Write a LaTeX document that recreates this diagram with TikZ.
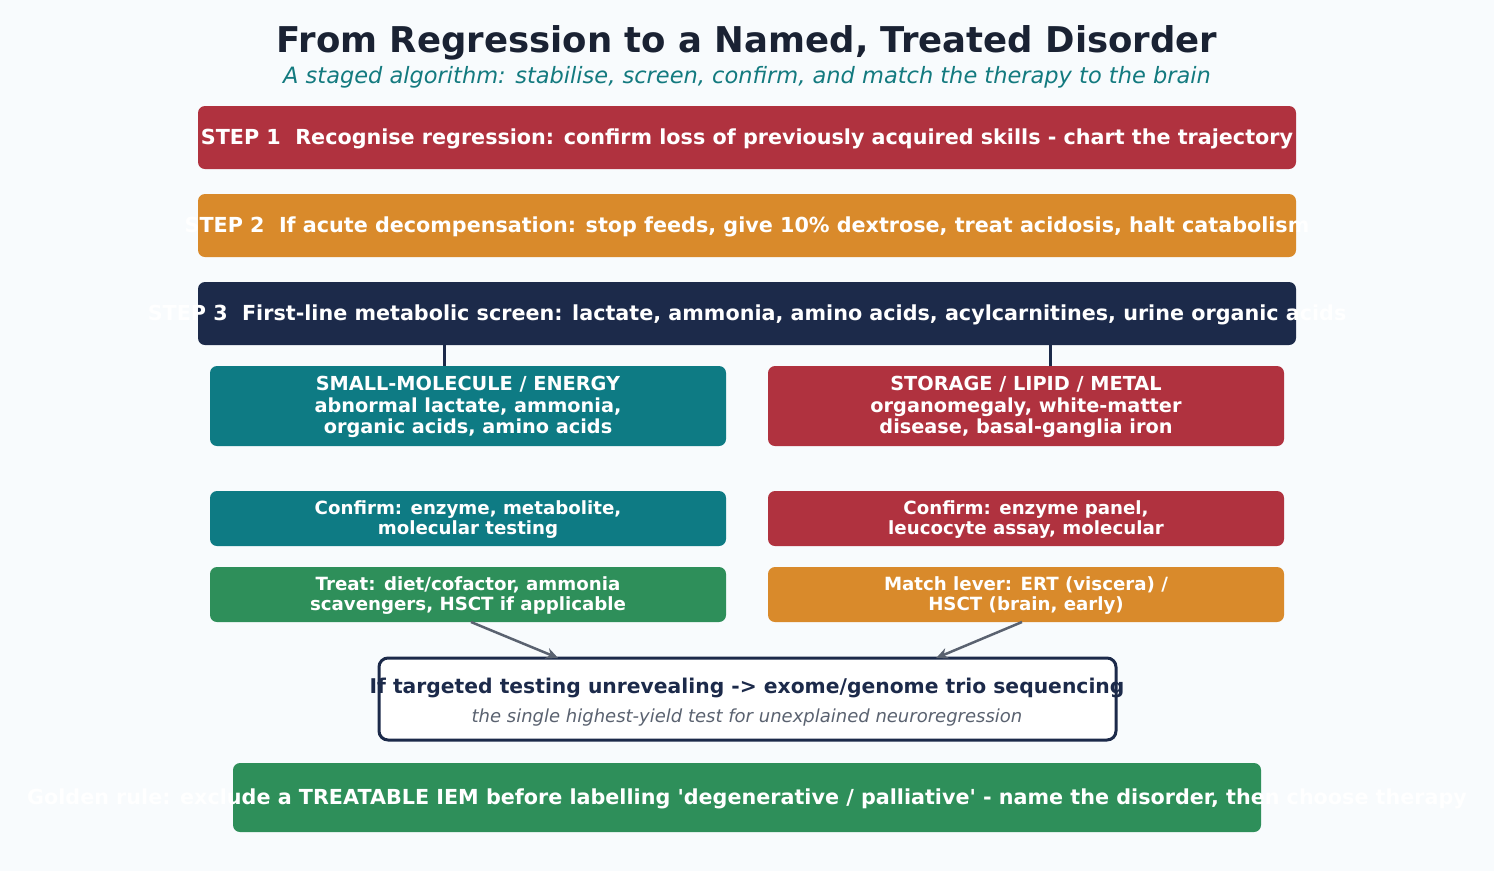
\documentclass[tikz,border=0pt]{standalone}
\usepackage{fontspec}
\setmainfont{DejaVu Sans}
\usetikzlibrary{arrows.meta,calc}
\definecolor{cbg}{HTML}{F8FBFD}
\definecolor{cnavy}{HTML}{1C2A4A}
\definecolor{cred}{HTML}{B0323F}
\definecolor{corange}{HTML}{D98A2B}
\definecolor{cteal}{HTML}{0E7B84}
\definecolor{cgreen}{HTML}{2E8F5A}
\definecolor{cgray}{HTML}{5A6270}
\definecolor{ctitle}{HTML}{1A2233}
\definecolor{csub}{HTML}{137A7F}
\tikzset{
  box/.style={rounded corners=7pt, inner sep=0pt, outer sep=0pt},
  stepbox/.style={box, minimum width=1098pt, minimum height=63pt},
  colbox/.style={box, minimum width=516pt},
  steptxt/.style={text=white, inner sep=0pt, yshift=-1.5pt, font=\fontsize{20.7}{24}\selectfont\bfseries},
  coltxt/.style={text=white, inner sep=0pt, yshift=-1pt, align=center, font=\fontsize{19.3}{21.5}\selectfont\bfseries},
  smalltxt/.style={text=white, inner sep=0pt, yshift=-1pt, align=center, font=\fontsize{18.2}{20.5}\selectfont\bfseries},
  link/.style={draw=cnavy, line width=3pt},
  arr/.style={draw=cgray, line width=2.5pt, -{Stealth[length=12pt,width=11pt]}},
}
\begin{document}
\begin{tikzpicture}[x=1pt,y=-1pt]
\fill[cbg] (0,0) rectangle (1494,871);
\useasboundingbox (0,0) rectangle (1494,871);

\node[text=ctitle, font=\fontsize{35.5}{40}\selectfont\bfseries] (title) at (747,43) {From Regression to a Named, Treated Disorder};
\node[text=csub, font=\fontsize{22.5}{26}\selectfont\itshape] (sub) at (747,77) {A staged algorithm: stabilise, screen, confirm, and match the therapy to the brain};

\node[stepbox, fill=cred] (s1) at (747,137.5) {};
\node[steptxt] (s1t) at (s1.center) {STEP 1\ \ Recognise regression: confirm loss of previously acquired skills - chart the trajectory};
\node[stepbox, fill=corange] (s2) at (747,225.5) {};
\node[steptxt] (s2t) at (s2.center) {STEP 2\ \ If acute decompensation: stop feeds, give 10\% dextrose, treat acidosis, halt catabolism};
\node[stepbox, fill=cnavy] (s3) at (747,313.5) {};
\node[steptxt] (s3t) at (s3.center) {STEP 3\ \ First-line metabolic screen: lactate, ammonia, amino acids, acylcarnitines, urine organic acids};

\node[colbox, fill=cteal, minimum height=80pt] (a) at (468,406) {};
\node[coltxt] (at) at (a.center) {SMALL-MOLECULE / ENERGY\\abnormal lactate, ammonia,\\organic acids, amino acids};
\node[colbox, fill=cred, minimum height=80pt] (b) at (1026,406) {};
\node[coltxt] (bt) at (b.center) {STORAGE / LIPID / METAL\\organomegaly, white-matter\\disease, basal-ganglia iron};

\coordinate (p1) at (444,0);
\coordinate (p2) at (1050,0);
\draw[link] (s3.south -| p1) -- (a.north -| p1);
\draw[link] (s3.south -| p2) -- (b.north -| p2);

\node[colbox, fill=cteal, minimum height=55pt] (c1) at (468,518.5) {};
\node[smalltxt] (c1t) at (c1.center) {Confirm: enzyme, metabolite,\\molecular testing};
\node[colbox, fill=cred, minimum height=55pt] (c2) at (1026,518.5) {};
\node[smalltxt] (c2t) at (c2.center) {Confirm: enzyme panel,\\leucocyte assay, molecular};

\node[colbox, fill=cgreen, minimum height=55pt] (t1) at (468,594.5) {};
\node[smalltxt] (t1t) at (t1.center) {Treat: diet/cofactor, ammonia\\scavengers, HSCT if applicable};
\node[colbox, fill=corange, minimum height=55pt] (t2) at (1026,594.5) {};
\node[smalltxt] (t2t) at (t2.center) {Match lever: ERT (viscera) /\\HSCT (brain, early)};

\node[box, draw=cnavy, line width=3pt, fill=white, rounded corners=9pt, minimum width=737pt, minimum height=82pt] (seq) at (747.5,699) {};
\node[text=cnavy, inner sep=0pt, font=\fontsize{20.3}{24}\selectfont\bfseries] (seqt) at (747,687.5) {If targeted testing unrevealing -> exome/genome trio sequencing};
\node[text=cgray, inner sep=0pt, font=\fontsize{18}{21}\selectfont\itshape] (seqs) at (747,717.5) {the single highest-yield test for unexplained neuroregression};

\draw[arr] ($(t1.south)+(3,0)$) -- ($(seq.north west)!0.243!(seq.north east)$);
\draw[arr] ($(t2.south)+(-4,0)$) -- ($(seq.north west)!0.756!(seq.north east)$);

\node[box, fill=cgreen, minimum width=1028pt, minimum height=69pt] (g) at (747,797.5) {};
\node[steptxt] (gt) at (g.center) {Golden rule: exclude a TREATABLE IEM before labelling \textquotesingle degenerative / palliative\textquotesingle{} - name the disorder, then choose therapy};
\end{tikzpicture}
\end{document}
